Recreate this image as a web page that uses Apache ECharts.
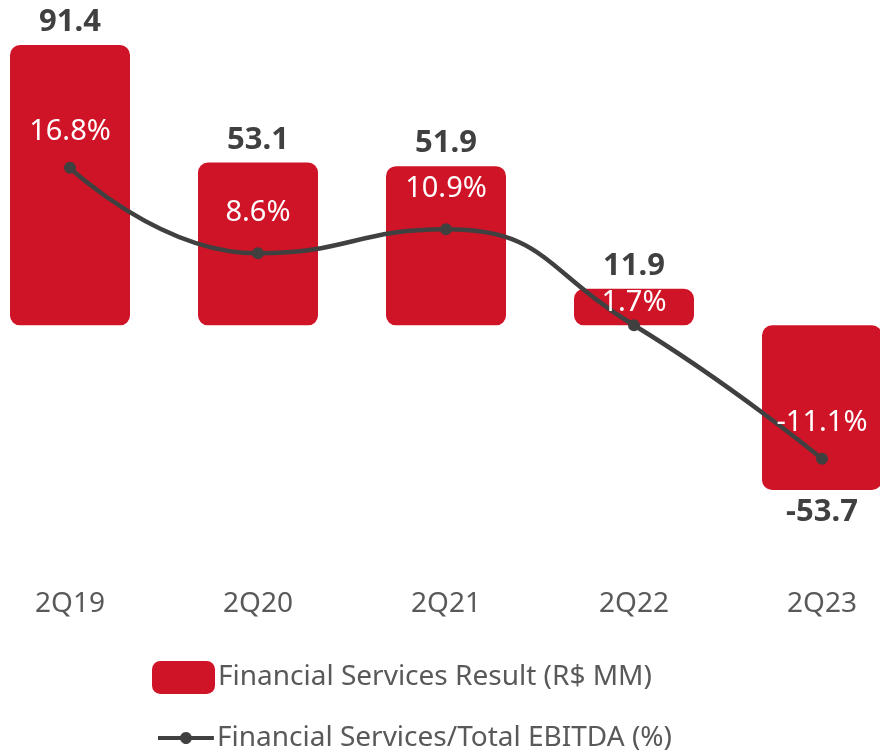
<!DOCTYPE html>
<html>
<head>
<meta charset="utf-8">
<script src="https://cdn.jsdelivr.net/npm/echarts@6/dist/echarts.min.js"></script>
<style>html,body{margin:0;padding:0;background:#fff}#c{width:880px;height:753px}</style>
</head>
<body>
<div id="c"></div>
<script>
var categories = ['2Q19', '2Q20', '2Q21', '2Q22', '2Q23'];
var resultValues = [91.4, 53.1, 51.9, 11.9, -53.7];
var ebitdaShare = [16.8, 8.6, 10.9, 1.7, -11.1];
var seriesNames = ['Financial Services Result (R$ MM)', 'Financial Services/Total EBITDA (%)'];

var FONT = '"Noto Sans", "Open Sans", sans-serif';
var RED = '#D01427';
var DARK = '#404040';
var GREY = '#595959';

var chart = echarts.init(document.getElementById('c'), null, { renderer: 'canvas' });

var barData = resultValues.map(function (v) {
  return { value: v, label: { position: v < 0 ? 'bottom' : 'top' } };
});
var lineData = ebitdaShare.map(function (v, i) {
  return { value: v, label: { distance: i === 3 ? 2 : (i === 1 || i === 2 ? 20 : 16) } };
});

var lineIcon = 'path://M0,4 H22.34 A6,6 0 0 1 33.66,4 H56 V8 H33.66 A6,6 0 0 1 22.34,8 H0 Z';

chart.setOption({
  animation: false,
  backgroundColor: '#fff',
  textStyle: { fontFamily: FONT },
  grid: { left: -24, width: 940, top: 45, height: 445, containLabel: false, outerBoundsMode: 'none' },
  xAxis: {
    type: 'category',
    data: categories,
    axisLine: { show: false },
    axisTick: { show: false },
    axisLabel: { margin: 100, fontSize: 28, color: GREY, fontFamily: FONT }
  },
  yAxis: [
    { type: 'value', min: -53.7, max: 91.4, show: false, splitLine: { show: false } },
    { type: 'value', min: -14.09, max: 28.57, show: false, splitLine: { show: false } }
  ],
  legend: [
    {
      left: 152,
      top: 661,
      padding: 0,
      itemWidth: 63,
      itemHeight: 33,
      textStyle: { fontSize: 28, color: GREY, fontFamily: FONT, padding: [0, 0, 0, -2] },
      data: [{ name: seriesNames[0], icon: 'roundRect' }]
    },
    {
      left: 158,
      top: 724,
      padding: 0,
      itemWidth: 56,
      itemHeight: 12,
      textStyle: { fontSize: 28, color: GREY, fontFamily: FONT, padding: [0, 0, 0, -2] },
      data: [{ name: seriesNames[1], icon: lineIcon, itemStyle: { color: DARK } }]
    }
  ],
  series: [
    {
      name: seriesNames[0],
      type: 'bar',
      yAxisIndex: 0,
      data: barData,
      barWidth: 120,
      itemStyle: { color: RED, borderRadius: 10 },
      label: {
        show: true,
        distance: 7,
        fontSize: 31,
        fontWeight: 'bold',
        color: DARK,
        fontFamily: FONT,
        formatter: function (p) { return p.value.toFixed(1); }
      },
      z: 1
    },
    {
      name: seriesNames[1],
      type: 'line',
      yAxisIndex: 1,
      data: lineData,
      smooth: 0.5,
      symbol: 'circle',
      symbolSize: 12,
      lineStyle: { color: DARK, width: 4.5 },
      itemStyle: { color: DARK },
      label: {
        show: true,
        position: 'top',
        fontSize: 29,
        color: '#ffffff',
        fontFamily: FONT,
        formatter: function (p) { return p.value.toFixed(1) + '%'; }
      },
      z: 3
    }
  ]
});
</script>
</body>
</html>
